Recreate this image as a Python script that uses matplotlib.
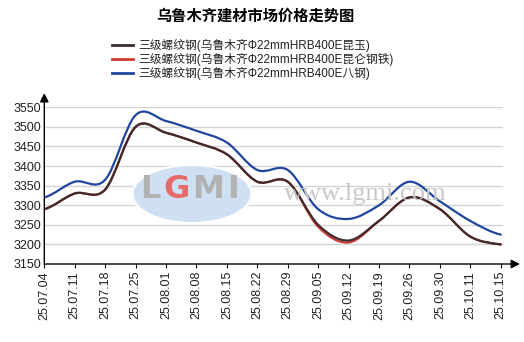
import numpy as np
import matplotlib.pyplot as plt
from matplotlib.path import Path
from matplotlib.patches import PathPatch, Ellipse
from matplotlib.lines import Line2D

# weekly price data (yuan/t)
dates = ['25.07.04', '25.07.11', '25.07.18', '25.07.25', '25.08.01', '25.08.08',
         '25.08.15', '25.08.22', '25.08.29', '25.09.05', '25.09.12', '25.09.19',
         '25.09.26', '25.09.30', '25.10.11', '25.10.15']
kunyu = [3290, 3330, 3340, 3500, 3485, 3460, 3430, 3360, 3360, 3250, 3210, 3260,
         3320, 3290, 3220, 3200]
kunlun = [3290, 3330, 3340, 3500, 3485, 3460, 3430, 3360, 3360, 3245, 3205, 3260,
          3320, 3290, 3220, 3200]
bagang = [3320, 3360, 3365, 3530, 3515, 3490, 3460, 3390, 3390, 3290, 3265, 3300,
          3360, 3310, 3260, 3225]
labels = ['三级螺纹钢(乌鲁木齐Φ22mmHRB400E昆玉)',
          '三级螺纹钢(乌鲁木齐Φ22mmHRB400E昆仑钢铁)',
          '三级螺纹钢(乌鲁木齐Φ22mmHRB400E八钢)']
yticks = [3150, 3200, 3250, 3300, 3350, 3400, 3450, 3500, 3550]

C_BLACK = '#3d2c2c'
C_RED = '#d23a36'
C_BLUE = '#1f469e'
FONT = ['Liberation Sans', 'Noto Sans CJK SC', 'DejaVu Sans']
CJK = ['Noto Sans CJK SC', 'DejaVu Sans']


def spline_path(y):
    # cardinal (catmull-rom) spline through the points, as cubic bezier segments
    y = np.asarray(y, dtype=float)
    x = np.arange(len(y), dtype=float)
    m = np.zeros_like(y)
    m[1:-1] = (y[2:] - y[:-2]) / 2
    m[0] = (y[1] - y[0]) / 2
    m[-1] = (y[-1] - y[-2]) / 2
    verts = [(x[0], y[0])]
    codes = [Path.MOVETO]
    for i in range(len(y) - 1):
        verts += [(x[i] + 1 / 3, y[i] + m[i] / 3),
                  (x[i + 1] - 1 / 3, y[i + 1] - m[i + 1] / 3),
                  (x[i + 1], y[i + 1])]
        codes += [Path.CURVE4] * 3
    return Path(verts, codes)


W, H = 524, 342
fig = plt.figure(figsize=(W / 100, H / 100), dpi=100)
fig.patch.set_facecolor('white')

x0, x1 = 44.3, 502.7
y0, y1 = 264.0, 107.3
ax = fig.add_axes([x0 / W, (H - y0) / H, (x1 - x0) / W, (y0 - y1) / H])
step = 30.43
ax.set_xlim(0, (x1 - x0) / step)
ax.set_ylim(3150, 3550)
for s in ax.spines.values():
    s.set_visible(False)

# grid
for v in yticks[1:]:
    ax.axhline(v, color='#d4d4d4', lw=1, zorder=0)

# watermark (pixel coords, origin bottom-left)
ax.add_patch(Ellipse((192, H - 194), 119, 58, transform=None, facecolor='#cfe0f3',
                     edgecolor='white', lw=1.5, zorder=0.5))
logo_x = [150, 176.5, 208, 233]
logo_c = ['#b2b2b2', '#e86a6a', '#b2b2b2', '#b2b2b2']
for lx, lc, ch in zip(logo_x, logo_c, 'LGMI'):
    fig.text(lx / W, 1 - 190 / H, ch, color=lc, fontsize=23, fontweight='bold',
             family='DejaVu Sans', ha='center', va='center', zorder=0.6)
fig.text(365 / W, 1 - 194 / H, 'www.lgmi.com', color='#c8c8c8', fontsize=19,
         family='Liberation Serif', ha='center', va='center', zorder=0.6)

# series
for data, col in [(kunlun, C_RED), (kunyu, C_BLACK), (bagang, C_BLUE)]:
    ax.add_patch(PathPatch(spline_path(data), facecolor='none', edgecolor=col,
                           lw=1.6, zorder=3, capstyle='round'))

# axes with arrows
ax.annotate('', xy=(1.0377, 0), xytext=(0, 0), xycoords='axes fraction',
            arrowprops=dict(arrowstyle='-|>', color='black', lw=1, mutation_scale=13,
                            shrinkA=0, shrinkB=0), annotation_clip=False)
ax.annotate('', xy=(0, 1.091), xytext=(0, 0), xycoords='axes fraction',
            arrowprops=dict(arrowstyle='-|>', color='black', lw=1, mutation_scale=13,
                            shrinkA=0, shrinkB=0), annotation_clip=False)

ax.set_xticks(range(len(dates)))
ax.set_xticklabels(dates, rotation=90, fontsize=9, family=FONT, color='#222222')
ax.set_yticks(yticks)
ax.set_yticklabels([str(v) for v in yticks], fontsize=9, family=FONT, color='#222222')
ax.tick_params(axis='x', length=3, width=0.8, pad=2)
ax.tick_params(axis='y', length=0, pad=2)

fig.text(255 / W, 1 - 16 / H, '乌鲁木齐建材市场价格走势图', fontsize=11,
         fontweight='bold', family=CJK, ha='center', va='center')

handles = [Line2D([], [], color=c, lw=2) for c in (C_BLACK, C_RED, C_BLUE)]
fig.legend(handles, labels, loc='upper left', bbox_to_anchor=(112 / W, 1 - 38.5 / H),
           frameon=False, prop={'family': FONT, 'size': 8.5}, handlelength=1.8,
           handletextpad=0.45, labelspacing=0.08, borderpad=0, borderaxespad=0,
           labelcolor='#222222')

plt.savefig('out.png', dpi=100)
